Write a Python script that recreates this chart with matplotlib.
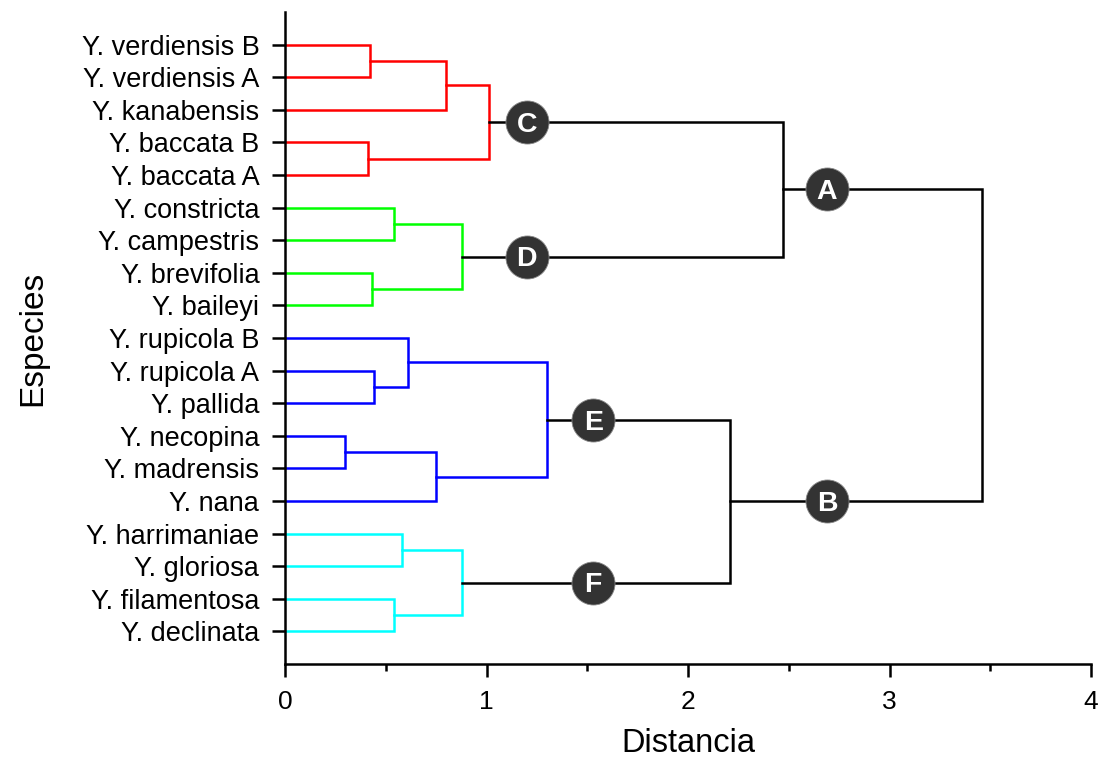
import matplotlib
matplotlib.use("Agg")
import matplotlib.pyplot as plt
from matplotlib.ticker import MultipleLocator

plt.rcParams['font.family'] = ['Liberation Sans', 'DejaVu Sans']

# hojas, de arriba abajo
especies = ['Y. verdiensis B', 'Y. verdiensis A', 'Y. kanabensis', 'Y. baccata B',
            'Y. baccata A', 'Y. constricta', 'Y. campestris', 'Y. brevifolia',
            'Y. baileyi', 'Y. rupicola B', 'Y. rupicola A', 'Y. pallida',
            'Y. necopina', 'Y. madrensis', 'Y. nana', 'Y. harrimaniae',
            'Y. gloriosa', 'Y. filamentosa', 'Y. declinata']

# uniones: (hijo izq, hijo der, distancia, color); hijos = indice de hoja o nombre de nodo
uniones = {
    'c1': (0, 1, 0.42, 'red'),
    'c2': ('c1', 2, 0.80, 'red'),
    'c3': (3, 4, 0.41, 'red'),
    'C': ('c2', 'c3', 1.01, 'red'),
    'd1': (5, 6, 0.54, 'lime'),
    'd2': (7, 8, 0.43, 'lime'),
    'D': ('d1', 'd2', 0.88, 'lime'),
    'e1': (10, 11, 0.44, 'blue'),
    'e2': (9, 'e1', 0.61, 'blue'),
    'e3': (12, 13, 0.30, 'blue'),
    'e4': ('e3', 14, 0.75, 'blue'),
    'E': ('e2', 'e4', 1.30, 'blue'),
    'f1': (15, 16, 0.58, 'cyan'),
    'f2': (17, 18, 0.54, 'cyan'),
    'F': ('f1', 'f2', 0.88, 'cyan'),
    'A': ('C', 'D', 2.47, 'black'),
    'B': ('E', 'F', 2.21, 'black'),
    'R': ('A', 'B', 3.46, 'black'),
}

etiquetas = ['A', 'B', 'C', 'D', 'E', 'F']
etiqueta_x = {'A': 2.69, 'B': 2.69, 'C': 1.20, 'D': 1.20, 'E': 1.53, 'F': 1.53}


def posicion(n):
    # devuelve (x, y) del nodo
    if isinstance(n, int):
        return 0.0, n + 1
    izq, der, h, _ = uniones[n]
    return h, (posicion(izq)[1] + posicion(der)[1]) / 2


fig = plt.figure(figsize=(11.02, 7.61), dpi=100)
ax = fig.add_axes([285 / 1102, 1 - 664 / 761, (1091 - 285) / 1102, (664 - 12) / 761])

for nombre, (izq, der, h, col) in uniones.items():
    x1, y1 = posicion(izq)
    x2, y2 = posicion(der)
    ax.plot([x1, h, h, x2], [y1, y1, y2, y2], color=col, lw=1.8,
            solid_joinstyle='miter', zorder=2)

for et in etiquetas:
    _, y = posicion(et)
    ax.scatter(etiqueta_x[et], y, s=960, color='#333333', edgecolor='#888888',
               linewidth=0.6, zorder=4)
    ax.text(etiqueta_x[et], y, et, color='white', fontsize=20.5, fontweight='bold',
            ha='center', va='center_baseline', zorder=5)

ax.set_xlim(0, 4)
ax.set_ylim(20, 0)
ax.set_yticks(range(1, len(especies) + 1))
ax.set_yticklabels(especies)
ax.xaxis.set_major_locator(MultipleLocator(1))
ax.xaxis.set_minor_locator(MultipleLocator(0.5))

for s in ['top', 'right']:
    ax.spines[s].set_visible(False)
for s in ['left', 'bottom']:
    ax.spines[s].set_linewidth(1.8)

ax.tick_params(axis='y', which='major', length=9.5, width=1.8, pad=9, labelsize=19.5)
ax.tick_params(axis='x', which='major', length=9, width=1.8, pad=10, labelsize=19)
ax.tick_params(axis='x', which='minor', length=5, width=1.8)

ax.set_xlabel('Distancia', fontsize=23.5, labelpad=10)
ax.set_ylabel('Especies', fontsize=24, labelpad=24)

fig.savefig('out.png', dpi=100)
